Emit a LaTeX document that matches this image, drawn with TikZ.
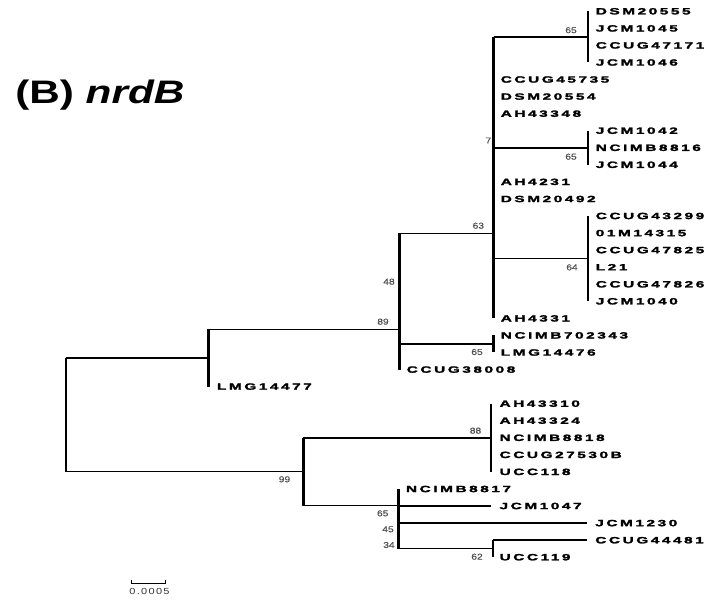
\documentclass[tikz,border=0pt]{standalone}
\usepackage{fontspec}
\setmainfont{Liberation Sans}
\newfontfamily\labfont[FakeStretch=1.7,LetterSpace=28,FakeBold=2.4]{Liberation Sans}
\newfontfamily\titlefont[FakeStretch=1.3]{Liberation Sans}
\newfontfamily\bootfont[FakeStretch=1.2,FakeBold=0.6]{Liberation Sans}
\newfontfamily\scalefont[FakeStretch=1.25,LetterSpace=15]{Liberation Sans}
\definecolor{bootgray}{HTML}{505050}
\tikzset{
  leaf/.style={anchor=west, inner sep=0pt, font=\labfont\bfseries\fontsize{6.8}{7}\selectfont},
  boot/.style={inner sep=0pt, text=bootgray, font=\bootfont\fontsize{6.4}{7}\selectfont},
  hline/.style={line width=1.1pt},
  vline/.style={line width=1.8pt},
}
\begin{document}
\begin{tikzpicture}[x=0.75pt,y=-0.75pt]
\useasboundingbox (0,0) rectangle (720,605);
\node[anchor=base west, inner sep=0pt, font=\titlefont\bfseries\fontsize{24.4}{28}\selectfont] (title) at (15,103.3) {(B) \textit{nrdB}};
% leaves
\node[leaf] (dsm20555) at (595.5,11.3) {DSM20555};
\node[leaf] (jcm1045) at (595.5,28.4) {JCM1045};
\node[leaf] (ccug47171) at (595.5,45.4) {CCUG47171};
\node[leaf] (jcm1046) at (595.5,62.5) {JCM1046};
\node[leaf] (ccug45735) at (500.5,79.5) {CCUG45735};
\node[leaf] (dsm20554) at (500.5,96.6) {DSM20554};
\node[leaf] (ah43348) at (500.5,113.7) {AH43348};
\node[leaf] (jcm1042) at (595.5,130.7) {JCM1042};
\node[leaf] (ncimb8816) at (595.5,147.8) {NCIMB8816};
\node[leaf] (jcm1044) at (595.5,164.8) {JCM1044};
\node[leaf] (ah4231) at (500.5,181.9) {AH4231};
\node[leaf] (dsm20492) at (500.5,199.0) {DSM20492};
\node[leaf] (ccug43299) at (595.5,216.0) {CCUG43299};
\node[leaf] (m14315) at (595.5,233.1) {01M14315};
\node[leaf] (ccug47825) at (595.5,250.1) {CCUG47825};
\node[leaf] (l21) at (595.5,267.2) {L21};
\node[leaf] (ccug47826) at (595.5,284.3) {CCUG47826};
\node[leaf] (jcm1040) at (595.5,301.3) {JCM1040};
\node[leaf] (ah4331) at (500.5,318.4) {AH4331};
\node[leaf] (ncimb702343) at (500.5,335.4) {NCIMB702343};
\node[leaf] (lmg14476) at (500.5,352.5) {LMG14476};
\node[leaf] (ccug38008) at (406.5,369.6) {CCUG38008};
\node[leaf] (lmg14477) at (216.7,386.6) {LMG14477};
\node[leaf] (ah43310) at (499.3,403.7) {AH43310};
\node[leaf] (ah43324) at (499.3,420.7) {AH43324};
\node[leaf] (ncimb8818) at (499.3,437.8) {NCIMB8818};
\node[leaf] (ccug27530b) at (499.3,454.9) {CCUG27530B};
\node[leaf] (ucc118) at (499.3,471.9) {UCC118};
\node[leaf] (ncimb8817) at (405.7,489.0) {NCIMB8817};
\node[leaf] (jcm1047) at (499.3,506.0) {JCM1047};
\node[leaf] (jcm1230) at (595.0,523.1) {JCM1230};
\node[leaf] (ccug44481) at (595.0,540.2) {CCUG44481};
\node[leaf] (ucc119) at (499.3,557.2) {UCC119};
% internal nodes
\coordinate (c1) at (587.7,36.9);
\coordinate (c2) at (587.7,147.8);
\coordinate (c3) at (587.7,258.7);
\coordinate (A) at (493.5,233.3);
\coordinate (c4) at (493.5,343.9);
\coordinate (B) at (399.3,329.3);
\coordinate (C) at (208.3,358);
\coordinate (R) at (65.7,414.8);
\coordinate (D) at (303.3,471.7);
\coordinate (c5) at (490.7,437.8);
\coordinate (E) at (398.3,505.7);
\coordinate (F) at (492.7,548.7);
% verticals
\draw[vline] (dsm20555.west -| c1) -- (jcm1046.west -| c1);
\draw[vline] (jcm1042.west -| c2) -- (jcm1044.west -| c2);
\draw[vline] (ccug43299.west -| c3) -- (jcm1040.west -| c3);
\draw[vline] (c1 -| A) -- (ah4331.west -| A);
\draw[vline] (ncimb702343.west -| c4) -- (lmg14476.west -| c4);
\draw[vline] (A -| B) -- (ccug38008.west -| B);
\draw[vline] (B -| C) -- (lmg14477.west -| C);
\draw[vline] (C -| R) -- (D -| R);
\draw[vline] (c5 -| D) -- (E -| D);
\draw[vline] (ah43310.west -| c5) -- (ucc118.west -| c5);
\draw[vline] (ncimb8817.west -| E) -- (F -| E);
\draw[vline] (ccug44481.west -| F) -- (ucc119.west -| F);
% horizontals
\draw[hline] (c1 -| A) -- (c1);
\draw[hline] (c2 -| A) -- (c2);
\draw[hline] (c3 -| A) -- (c3);
\draw[hline] (A -| B) -- (A);
\draw[hline] (c4 -| B) -- (c4);
\draw[hline] (B -| C) -- (B);
\draw[hline] (C -| R) -- (C);
\draw[hline] (D -| R) -- (D);
\draw[hline] (c5 -| D) -- (c5);
\draw[hline] (E -| D) -- (E);
\draw[hline,shorten >=6.4pt] (jcm1047.west -| E) -- (jcm1047.west);
\draw[hline,shorten >=6.2pt] (jcm1230.west -| E) -- (jcm1230.west);
\draw[hline] (F -| E) -- (F);
\draw[hline,shorten >=6.2pt] (ccug44481.west -| F) -- (ccug44481.west);
% bootstrap values
\node[boot] (b1) at (571,30.2) {65};
\node[boot] (b2) at (488.3,140.5) {7};
\node[boot] (b3) at (571,156.7) {65};
\node[boot] (b4) at (478.3,225.7) {63};
\node[boot] (b5) at (572,267.3) {64};
\node[boot] (b6) at (389,281.7) {48};
\node[boot] (b7) at (383,321.7) {89};
\node[boot] (b8) at (477,352) {65};
\node[boot] (b9) at (475.5,430.7) {88};
\node[boot] (b10) at (284.5,479.3) {99};
\node[boot] (b11) at (382.7,513.3) {65};
\node[boot] (b12) at (388,529.3) {45};
\node[boot] (b13) at (389,545) {34};
\node[boot] (b14) at (477,556.7) {62};
% scale bar
\coordinate (sbL) at (131,583.3);
\coordinate (sbR) at (165.7,583.3);
\draw[line width=0.6pt] (sbL) -- (sbR);
\draw[line width=0.6pt] (sbL) -- ++(0,-3.5);
\draw[line width=0.6pt] (sbR) -- ++(0,-3.5);
\node[inner sep=0pt, text=black!80, font=\scalefont\fontsize{6.6}{7}\selectfont] (sblab) at (149.5,591) {0.0005};
\end{tikzpicture}
\end{document}
